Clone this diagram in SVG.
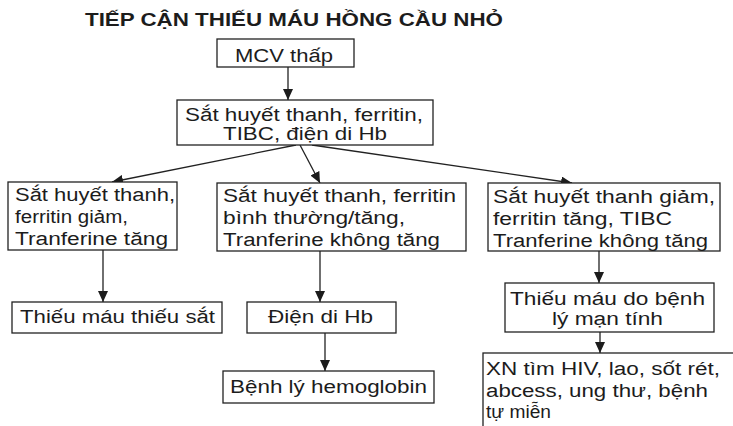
<svg xmlns="http://www.w3.org/2000/svg" width="733" height="426" viewBox="0 0 733 426">
  <style>
    .box { fill: #ffffff; stroke: #222222; stroke-width: 1.3; }
    .t { font-family: "Liberation Sans", Arial, sans-serif; font-size: 18px; fill: #1c1c1c; }
    .title { font-family: "Liberation Sans", Arial, sans-serif; font-size: 17.5px; font-weight: bold; fill: #1c1c1c; }
    .edge { fill: none; stroke: #222222; stroke-width: 1.3; marker-end: url(#arrow); }
  </style>
  <defs>
    <marker id="arrow" markerUnits="userSpaceOnUse" markerWidth="12" markerHeight="10" refX="11" refY="5" orient="auto">
      <path d="M0,0 L11,5 L0,10 Z" fill="#1c1c1c"/>
    </marker>
  </defs>

  <rect width="733" height="426" fill="#ffffff"/>

  <text class="title" x="85" y="26" textLength="418" lengthAdjust="spacingAndGlyphs">TIẾP CẬN THIẾU MÁU HỒNG CẦU NHỎ</text>

  <!-- connectors -->
  <g id="connectors">
    <line class="edge" x1="288" y1="67" x2="288" y2="100"/>
    <line class="edge" x1="296" y1="145" x2="112" y2="182"/>
    <line class="edge" x1="300" y1="145" x2="320" y2="183"/>
    <line class="edge" x1="312" y1="145" x2="572" y2="183"/>
    <line class="edge" x1="103" y1="250" x2="103" y2="302"/>
    <line class="edge" x1="320" y1="251" x2="320" y2="302"/>
    <line class="edge" x1="325" y1="333" x2="325" y2="371"/>
    <line class="edge" x1="599" y1="251" x2="599" y2="283"/>
    <line class="edge" x1="600" y1="332" x2="600" y2="353"/>
  </g>

  <g id="mcv">
    <rect class="box" x="217" y="39" width="137" height="28"/>
    <text class="t" x="235" y="62" textLength="98" lengthAdjust="spacingAndGlyphs">MCV thấp</text>
  </g>

  <g id="tests">
    <rect class="box" x="177" y="100" width="256" height="45"/>
    <text class="t" x="185" y="121" textLength="238" lengthAdjust="spacingAndGlyphs">Sắt huyết thanh, ferritin,</text>
    <text class="t" x="223" y="140" textLength="164" lengthAdjust="spacingAndGlyphs">TIBC, điện di Hb</text>
  </g>

  <g id="low-ferritin">
    <rect class="box" x="8" y="182" width="169" height="68"/>
    <text class="t" x="15" y="201" textLength="160" lengthAdjust="spacingAndGlyphs">Sắt huyết thanh,</text>
    <text class="t" x="15" y="223" textLength="113" lengthAdjust="spacingAndGlyphs">ferritin giảm,</text>
    <text class="t" x="15" y="245" textLength="153" lengthAdjust="spacingAndGlyphs">Tranferine tăng</text>
  </g>

  <g id="normal-ferritin">
    <rect class="box" x="217" y="183" width="249" height="68"/>
    <text class="t" x="223" y="202" textLength="233" lengthAdjust="spacingAndGlyphs">Sắt huyết thanh, ferritin</text>
    <text class="t" x="223" y="224" textLength="182" lengthAdjust="spacingAndGlyphs">bình thường/tăng,</text>
    <text class="t" x="223" y="246" textLength="217" lengthAdjust="spacingAndGlyphs">Tranferine không tăng</text>
  </g>

  <g id="high-ferritin">
    <rect class="box" x="488" y="183" width="232" height="68"/>
    <text class="t" x="493" y="203" textLength="222" lengthAdjust="spacingAndGlyphs">Sắt huyết thanh giảm,</text>
    <text class="t" x="493" y="225" textLength="179" lengthAdjust="spacingAndGlyphs">ferritin tăng, TIBC</text>
    <text class="t" x="493" y="247" textLength="215" lengthAdjust="spacingAndGlyphs">Tranferine không tăng</text>
  </g>

  <g id="iron-deficiency">
    <rect class="box" x="12" y="302" width="210" height="31"/>
    <text class="t" x="20" y="323" textLength="195" lengthAdjust="spacingAndGlyphs">Thiếu máu thiếu sắt</text>
  </g>

  <g id="electrophoresis">
    <rect class="box" x="247" y="302" width="149" height="31"/>
    <text class="t" x="268" y="323" textLength="105" lengthAdjust="spacingAndGlyphs">Điện di Hb</text>
  </g>

  <g id="hemoglobinopathy">
    <rect class="box" x="223" y="371" width="211" height="32"/>
    <text class="t" x="230" y="393" textLength="197" lengthAdjust="spacingAndGlyphs">Bệnh lý hemoglobin</text>
  </g>

  <g id="chronic-disease">
    <rect class="box" x="505" y="283" width="209" height="49"/>
    <text class="t" x="510" y="305" textLength="195" lengthAdjust="spacingAndGlyphs">Thiếu máu do bệnh</text>
    <text class="t" x="552" y="325" textLength="111" lengthAdjust="spacingAndGlyphs">lý mạn tính</text>
  </g>

  <g id="workup">
    <rect class="box" x="483" y="353" width="270" height="90"/>
    <text class="t" x="486" y="375" textLength="234" lengthAdjust="spacingAndGlyphs">XN tìm HIV, lao, sốt rét,</text>
    <text class="t" x="486" y="397" textLength="222" lengthAdjust="spacingAndGlyphs">abcess, ung thư, bệnh</text>
    <text class="t" x="486" y="418" textLength="65" lengthAdjust="spacingAndGlyphs">tự miễn</text>
  </g>
</svg>
